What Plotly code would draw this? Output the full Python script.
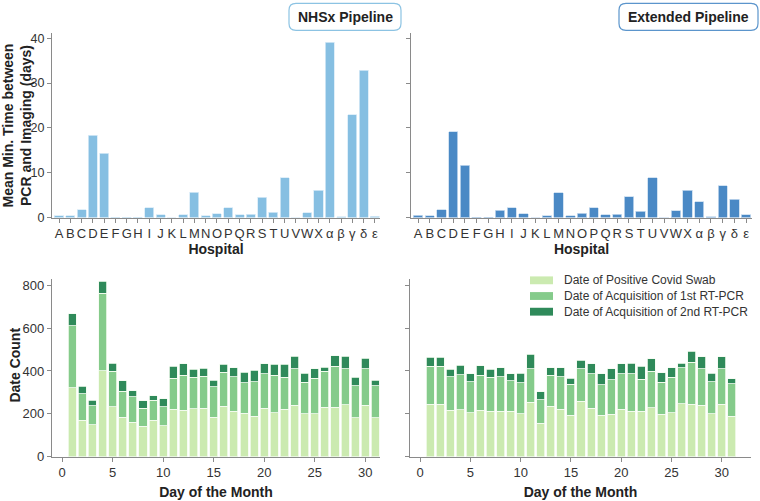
import plotly.graph_objects as go

hospitals = ["A","B","C","D","E","F","G","H","I","J","K","L","M","N","O","P","Q","R","S","T","U","V","W","X","α","β","γ","δ","ε"]
nhsx_days = [0.44,0.36,1.8,18.4,14.4,0.05,0.1,0.1,2.2,0.66,0.0,0.6,5.7,0.4,0.9,2.2,0.6,0.7,4.5,1.2,8.9,0.0,1.1,6.1,39.1,0.2,23.0,32.9,0.3]
ext_days = [0.5,0.4,1.8,19.2,11.7,0.1,0.05,1.6,2.2,0.9,0.0,0.4,5.6,0.4,0.95,2.2,0.6,0.8,4.6,1.4,8.9,0.0,1.5,6.1,3.5,0.2,7.1,4.1,0.6]

days = list(range(1, 32))
nhsx_swab = [322,169,148,401,233,185,160,142,171,145,221,216,224,226,184,235,212,203,189,226,204,221,239,200,200,230,230,242,181,239,181]
nhsx_pcr1 = [289,125,90,362,166,121,119,83,93,88,145,165,146,150,142,158,160,141,161,160,177,149,172,147,166,169,191,169,150,172,150]
nhsx_pcr2 = [55,34,26,54,38,49,29,35,21,37,56,53,37,37,31,38,44,49,54,48,50,61,58,43,45,19,51,58,39,49,26]
ext_swab = [244,244,216,219,206,216,212,213,212,201,253,157,236,221,194,258,226,194,197,221,212,212,229,198,204,248,244,239,201,244,189]
ext_pcr1 = [178,178,156,163,143,165,158,160,142,143,158,108,145,151,144,153,160,141,161,165,174,149,169,149,166,168,196,172,148,167,151]
ext_pcr2 = [41,41,35,45,38,43,37,43,33,46,66,38,35,42,29,39,47,51,53,47,50,61,58,45,46,21,51,55,41,55,23]

series_names = ["Date of Positive Covid Swab", "Date of Acquisition of 1st RT-PCR", "Date of Acquisition of 2nd RT-PCR"]
panel_titles = ["NHSx Pipeline", "Extended Pipeline"]
greens = ["#cbeab0", "#85cb8b", "#2f8a5a"]
blue_light = "#86bfe2"
blue_dark = "#4a89c5"

W, H = 760, 501
def xd(a, b):
    return [a / W, b / W]
def yd(top, bot):
    return [1 - bot / H, 1 - top / H]
def px(v):
    return v / W
def py(v):
    return 1 - v / H

fig = go.Figure()
fig.add_trace(go.Bar(x=hospitals, y=nhsx_days, marker=dict(color=blue_light, line=dict(color="#d8ebf7", width=0.8)),
                     xaxis="x", yaxis="y", showlegend=False))
fig.add_trace(go.Bar(x=hospitals, y=ext_days, marker=dict(color=blue_dark, line=dict(color="#c8dcef", width=0.8)),
                     xaxis="x2", yaxis="y2", showlegend=False))
for name, col, vals in zip(series_names, greens, [nhsx_swab, nhsx_pcr1, nhsx_pcr2]):
    fig.add_trace(go.Bar(x=days, y=vals, name=name, marker=dict(color=col, line=dict(color="#f4fbf0", width=0.8)),
                         xaxis="x3", yaxis="y3", showlegend=False))
for name, col, vals in zip(series_names, greens, [ext_swab, ext_pcr1, ext_pcr2]):
    fig.add_trace(go.Bar(x=days, y=vals, name=name, marker=dict(color=col, line=dict(color="#f4fbf0", width=0.8)),
                         xaxis="x4", yaxis="y4", showlegend=False))

axis_common = dict(showline=True, linecolor="#8a8a8a", linewidth=1.2, ticks="outside", tickcolor="#8a8a8a",
                   ticklen=4, showgrid=False, zeroline=False, tickfont=dict(size=13, color="#333333"))
cat_axis = dict(axis_common, type="category", tickmode="array", tickvals=hospitals, tickangle=0,
                tickfont=dict(size=13, color="#333333"))
top_y_axis = dict(axis_common, tickfont=dict(size=12.5, color="#333333"))
title_font = dict(size=14, color="#222222", family="Liberation Sans")

fig.update_layout(
    width=W, height=H, margin=dict(l=0, r=0, t=0, b=0),
    paper_bgcolor="white", plot_bgcolor="white",
    font=dict(family="Liberation Sans", color="#333333"),
    barmode="stack", bargap=0.2, showlegend=False,
    xaxis=dict(domain=xd(52, 380), anchor="y", range=[-0.62, 28.45],
               title=dict(text="<b>Hospital</b>", font=title_font, standoff=1), **cat_axis),
    yaxis=dict(domain=yd(32, 220), anchor="x", range=[0, 41.1], tickvals=[0, 10, 20, 30, 40], **top_y_axis),
    xaxis2=dict(domain=xd(411, 752), anchor="y2", range=[-0.6, 28.5],
                title=dict(text="<b>Hospital</b>", font=title_font, standoff=1), **cat_axis),
    yaxis2=dict(domain=yd(32, 220), anchor="x2", range=[0, 41.1], tickvals=[0, 10, 20, 30, 40], showticklabels=False, **axis_common),
    xaxis3=dict(domain=xd(52, 380), anchor="y3", range=[-1.0, 31.45], tickvals=[0, 5, 10, 15, 20, 25, 30],
                title=dict(text="<b>Day of the Month</b>", font=title_font, standoff=7), **axis_common),
    yaxis3=dict(domain=yd(283, 464), anchor="x3", range=[0, 827], tickvals=[0, 200, 400, 600, 800], **axis_common),
    xaxis4=dict(domain=xd(410, 751), anchor="y4", range=[-1.0, 32.9], tickvals=[0, 5, 10, 15, 20, 25, 30],
                title=dict(text="<b>Day of the Month</b>", font=title_font, standoff=7), **axis_common),
    yaxis4=dict(domain=yd(283, 464), anchor="x4", range=[0, 827], tickvals=[0, 200, 400, 600, 800], showticklabels=False, **axis_common),
)

# y-axis titles as rotated text
fig.add_annotation(text="<b>Mean Min. Time between<br>PCR and Imaging (days)</b>", xref="paper", yref="paper",
                   x=px(17), y=py(126), xanchor="center", yanchor="middle", textangle=-90, showarrow=False,
                   font=title_font)
fig.add_annotation(text="<b>Date Count</b>", xref="paper", yref="paper",
                   x=px(15), y=py(371), xanchor="center", yanchor="middle", textangle=-90, showarrow=False,
                   font=title_font)

# legend (drawn with shapes + text so row spacing matches)
for i, (name, col) in enumerate(zip(series_names, greens)):
    yc = 284 + 16 * i
    fig.add_shape(type="rect", xref="paper", yref="paper", x0=px(530), x1=px(553), y0=py(yc - 4), y1=py(yc + 4),
                  fillcolor=col, line=dict(width=0))
    fig.add_annotation(text=name, xref="paper", yref="paper", x=px(562), y=py(yc), xanchor="left", yanchor="middle",
                       showarrow=False, font=dict(size=12, color="#333333"))

def rounded_box(x0, y0, x1, y1, r):
    return (f"M {px(x0 + r)} {py(y0)} L {px(x1 - r)} {py(y0)} Q {px(x1)} {py(y0)} {px(x1)} {py(y0 + r)} "
            f"L {px(x1)} {py(y1 - r)} Q {px(x1)} {py(y1)} {px(x1 - r)} {py(y1)} "
            f"L {px(x0 + r)} {py(y1)} Q {px(x0)} {py(y1)} {px(x0)} {py(y1 - r)} "
            f"L {px(x0)} {py(y0 + r)} Q {px(x0)} {py(y0)} {px(x0 + r)} {py(y0)} Z")

boxes = [(289, 1.5, 401, 29, "#8cc3e3"), (619, 1.5, 758, 29, "#5b95cc")]
for (x0, y0, x1, y1, col), txt in zip(boxes, panel_titles):
    fig.add_shape(type="path", xref="paper", yref="paper", path=rounded_box(x0, y0, x1, y1, 7),
                  line=dict(color=col, width=1.2), fillcolor="white")
    fig.add_annotation(text=f"<b>{txt}</b>", xref="paper", yref="paper", x=px((x0 + x1) / 2),
                       y=py((y0 + y1) / 2), xanchor="center", yanchor="middle", showarrow=False,
                       font=dict(size=14, color="#222222"))

fig.write_html("out.html", config={"displayModeBar": False},
               post_script="document.body.style.margin='0px';document.body.style.padding='0px';")
